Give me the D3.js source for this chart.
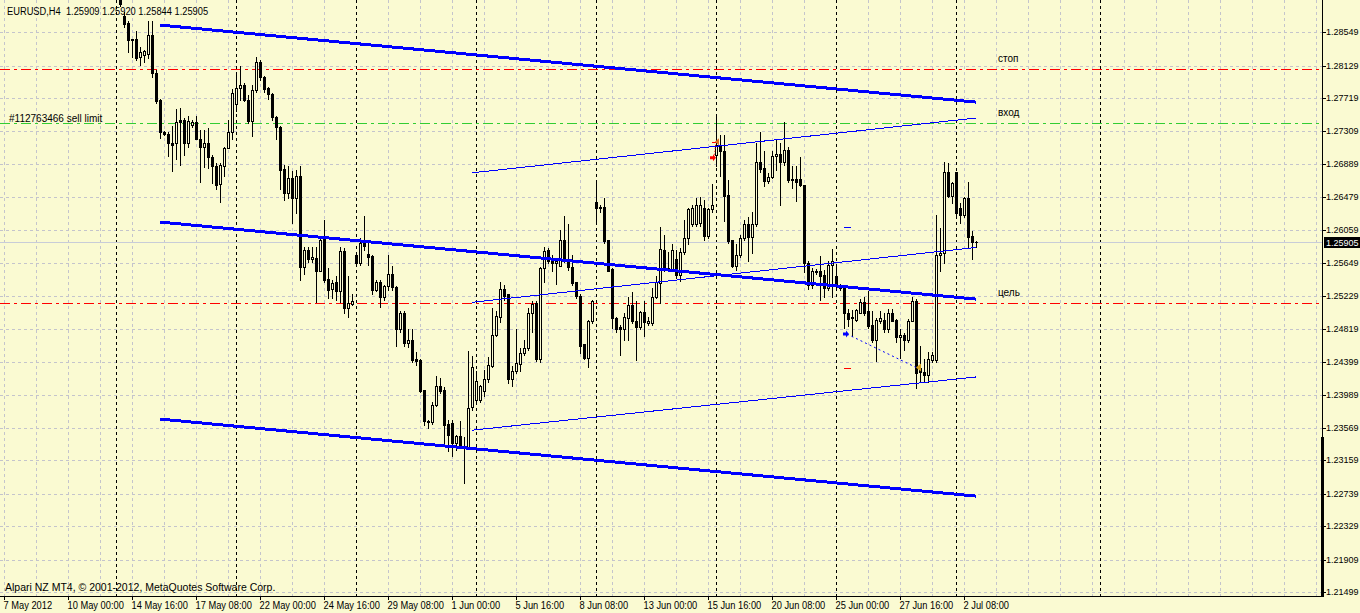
<!DOCTYPE html>
<html><head><meta charset="utf-8">
<script src="https://cdn.jsdelivr.net/npm/d3@7/dist/d3.min.js"></script>
<style>html,body{margin:0;padding:0;background:#FAFAD2;overflow:hidden}svg{display:block}</style>
</head><body>
<svg id="c" width="1360" height="613"></svg>
<script>
// ---------- DATA ----------
const symbolTitle = "EURUSD,H4  1.25909 1.25920 1.25844 1.25905";
const firstBar = 1; // bar index of first candle (bar 0 = 14 May 00:00, 30 bars per week)
const opens = [1.2921,1.2875,1.2866,1.2846,1.2846,1.2824,1.2826,1.2827,1.2851,1.2804,
1.2770,1.2729,1.2727,1.2715,1.2715,1.2744,1.2745,1.2715,1.2738,1.2742,
1.2721,1.2711,1.2715,1.2698,1.2686,1.2664,1.2686,1.2709,1.2730,1.2765,
1.2785,1.2789,1.2770,1.2743,1.2782,1.2818,1.2799,1.2785,1.2777,1.2748,
1.2736,1.2683,1.2653,1.2671,1.2646,1.2674,1.2559,1.2581,1.2570,1.2571,
1.2554,1.2598,1.2544,1.2532,1.2540,1.2529,1.2580,1.2508,1.2513,1.2575,
1.2564,1.2590,1.2576,1.2573,1.2530,1.2541,1.2522,1.2535,1.2550,1.2534,
1.2481,1.2502,1.2464,1.2468,1.2443,1.2442,1.2405,1.2364,1.2364,1.2386,
1.2409,1.2404,1.2362,1.2363,1.2338,1.2347,1.2334,1.2332,1.2383,1.2392,
1.2392,1.2403,1.2418,1.2435,1.2474,1.2497,1.2532,1.2525,1.2418,1.2428,
1.2437,1.2451,1.2457,1.2502,1.2514,1.2443,1.2558,1.2581,1.2570,1.2564,
1.2561,1.2593,1.2569,1.2560,1.2540,1.2523,1.2462,1.2445,1.2491,1.2641,
1.2634,1.2635,1.2593,1.2557,1.2495,1.2484,1.2481,1.2495,1.2511,1.2492,
1.2484,1.2503,1.2489,1.2489,1.2522,1.2539,1.2581,1.2558,1.2556,1.2570,
1.2549,1.2578,1.2596,1.2614,1.2614,1.2615,1.2634,1.2599,1.2632,1.2701,
1.2712,1.2705,1.2650,1.2593,1.2561,1.2574,1.2596,1.2613,1.2597,1.2614,
1.2692,1.2684,1.2668,1.2673,1.2699,1.2702,1.2691,1.2707,1.2670,1.2670,
1.2670,1.2663,1.2565,1.2537,1.2555,1.2554,1.2549,1.2533,1.2562,1.2548,
1.2536,1.2533,1.2502,1.2497,1.2493,1.2502,1.2515,1.2504,1.2487,1.2468,
1.2492,1.2493,1.2481,1.2502,1.2493,1.2471,1.2474,1.2467,1.2492,1.2516,
1.2432,1.2427,1.2424,1.2442,1.2442,1.2574,1.2577,1.2679,1.2649,1.2679,
1.2634,1.2625,1.2646,1.2599,1.25909];
const highs = [1.2934,1.2880,1.2869,1.2847,1.2856,1.2837,1.2833,1.2869,1.2869,1.2808,
1.2771,1.2731,1.2729,1.2737,1.2758,1.2760,1.2747,1.2749,1.2744,1.2749,
1.2732,1.2732,1.2734,1.2701,1.2690,1.2690,1.2711,1.2745,1.2783,1.2802,
1.2812,1.2791,1.2776,1.2789,1.2824,1.2820,1.2800,1.2786,1.2779,1.2749,
1.2737,1.2688,1.2686,1.2680,1.2682,1.2686,1.2585,1.2585,1.2584,1.2585,
1.2596,1.2619,1.2558,1.2543,1.2548,1.2585,1.2583,1.2548,1.2526,1.2576,
1.2596,1.2624,1.2590,1.2575,1.2543,1.2543,1.2537,1.2574,1.2561,1.2535,
1.2504,1.2504,1.2481,1.2481,1.2452,1.2443,1.2405,1.2367,1.2390,1.2422,
1.2420,1.2408,1.2367,1.2367,1.2348,1.2365,1.2345,1.2454,1.2448,1.2429,
1.2411,1.2430,1.2446,1.2508,1.2504,1.2540,1.2537,1.2525,1.2435,1.2481,
1.2458,1.2468,1.2508,1.2517,1.2516,1.2560,1.2585,1.2583,1.2574,1.2570,
1.2606,1.2624,1.2614,1.2575,1.2541,1.2525,1.2463,1.2493,1.2518,1.2668,
1.2638,1.2646,1.2594,1.2558,1.2497,1.2487,1.2502,1.2522,1.2528,1.2516,
1.2504,1.2516,1.2496,1.2533,1.2548,1.2610,1.2600,1.2578,1.2588,1.2581,
1.2583,1.2619,1.2634,1.2638,1.2646,1.2647,1.2644,1.2634,1.2664,1.2750,
1.2726,1.2725,1.2669,1.2594,1.2588,1.2600,1.2618,1.2623,1.2629,1.2716,
1.2730,1.2706,1.2678,1.2705,1.2720,1.2716,1.2742,1.2710,1.2686,1.2686,
1.2698,1.2663,1.2567,1.2558,1.2557,1.2573,1.2556,1.2567,1.2582,1.2560,
1.2538,1.2537,1.2506,1.2505,1.2506,1.2519,1.2522,1.2529,1.2504,1.2495,
1.2504,1.2502,1.2506,1.2506,1.2494,1.2481,1.2476,1.2494,1.2522,1.2519,
1.2460,1.2443,1.2453,1.2452,1.2625,1.2609,1.2691,1.2690,1.2667,1.2679,
1.2640,1.2648,1.2667,1.2605,1.25920];
const lows = [1.2888,1.2862,1.2830,1.2824,1.2820,1.2814,1.2817,1.2823,1.2799,1.2766,
1.2722,1.2726,1.2699,1.2680,1.2695,1.2688,1.2701,1.2711,1.2736,1.2720,
1.2666,1.2685,1.2684,1.2665,1.2657,1.2641,1.2674,1.2709,1.2720,1.2756,
1.2770,1.2768,1.2741,1.2724,1.2780,1.2795,1.2780,1.2771,1.2745,1.2721,
1.2658,1.2644,1.2646,1.2615,1.2627,1.2543,1.2550,1.2566,1.2566,1.2515,
1.2554,1.2541,1.2520,1.2520,1.2518,1.2515,1.2502,1.2496,1.2511,1.2564,
1.2562,1.2581,1.2562,1.2525,1.2529,1.2509,1.2518,1.2531,1.2531,1.2460,
1.2478,1.2460,1.2459,1.2440,1.2436,1.2402,1.2360,1.2357,1.2362,1.2384,
1.2401,1.2334,1.2328,1.2322,1.2329,1.2331,1.2288,1.2332,1.2380,1.2391,
1.2390,1.2397,1.2415,1.2434,1.2473,1.2490,1.2518,1.2413,1.2409,1.2426,
1.2429,1.2449,1.2455,1.2478,1.2441,1.2440,1.2541,1.2565,1.2555,1.2538,
1.2561,1.2566,1.2556,1.2537,1.2521,1.2451,1.2443,1.2434,1.2489,1.2617,
1.2629,1.2590,1.2554,1.2483,1.2477,1.2449,1.2468,1.2468,1.2489,1.2442,
1.2482,1.2473,1.2487,1.2487,1.2520,1.2514,1.2554,1.2554,1.2554,1.2546,
1.2542,1.2576,1.2588,1.2611,1.2611,1.2611,1.2593,1.2596,1.2629,1.2686,
1.2674,1.2617,1.2590,1.2559,1.2556,1.2572,1.2594,1.2567,1.2577,1.2611,
1.2679,1.2661,1.2665,1.2671,1.2682,1.2637,1.2688,1.2667,1.2659,1.2642,
1.2661,1.2553,1.2532,1.2533,1.2550,1.2518,1.2522,1.2531,1.2522,1.2533,
1.2531,1.2483,1.2485,1.2472,1.2491,1.2501,1.2499,1.2483,1.2465,1.2441,
1.2489,1.2478,1.2478,1.2491,1.2465,1.2445,1.2455,1.2465,1.2491,1.2407,
1.2415,1.2415,1.2415,1.2440,1.2440,1.2554,1.2565,1.2647,1.2640,1.2624,
1.2615,1.2623,1.2585,1.2569,1.25844];
const closes = [1.2891,1.2865,1.2845,1.2845,1.2823,1.2830,1.2831,1.2851,1.2804,1.2769,
1.2729,1.2727,1.2715,1.2713,1.2742,1.2742,1.2715,1.2743,1.2742,1.2721,
1.2711,1.2715,1.2698,1.2686,1.2663,1.2688,1.2709,1.2730,1.2779,1.2785,
1.2789,1.2770,1.2743,1.2782,1.2818,1.2799,1.2784,1.2777,1.2748,1.2736,
1.2682,1.2653,1.2671,1.2646,1.2674,1.2559,1.2581,1.2569,1.2572,1.2554,
1.2593,1.2543,1.2531,1.2539,1.2529,1.2580,1.2508,1.2514,1.2516,1.2564,
1.2590,1.2586,1.2572,1.2531,1.2541,1.2522,1.2535,1.2550,1.2534,1.2481,
1.2502,1.2464,1.2468,1.2442,1.2441,1.2403,1.2365,1.2366,1.2386,1.2409,
1.2403,1.2361,1.2348,1.2338,1.2347,1.2334,1.2332,1.2382,1.2434,1.2416,
1.2409,1.2418,1.2436,1.2474,1.2498,1.2532,1.2523,1.2418,1.2429,1.2438,
1.2451,1.2457,1.2502,1.2513,1.2443,1.2558,1.2580,1.2567,1.2564,1.2567,
1.2593,1.2569,1.2559,1.2539,1.2523,1.2460,1.2445,1.2492,1.2516,1.2634,
1.2635,1.2592,1.2555,1.2495,1.2481,1.2481,1.2496,1.2511,1.2491,1.2484,
1.2503,1.2490,1.2492,1.2522,1.2540,1.2582,1.2556,1.2556,1.2581,1.2549,
1.2578,1.2596,1.2632,1.2634,1.2638,1.2638,1.2599,1.2632,1.2637,1.2713,
1.2705,1.2649,1.2592,1.2561,1.2575,1.2596,1.2613,1.2597,1.2614,1.2692,
1.2683,1.2668,1.2673,1.2699,1.2702,1.2691,1.2707,1.2669,1.2669,1.2667,
1.2663,1.2565,1.2537,1.2555,1.2553,1.2548,1.2533,1.2562,1.2567,1.2535,
1.2533,1.2502,1.2494,1.2495,1.2505,1.2515,1.2502,1.2485,1.2468,1.2493,
1.2495,1.2481,1.2502,1.2492,1.2471,1.2474,1.2467,1.2492,1.2516,1.2426,
1.2427,1.2424,1.2443,1.2449,1.2574,1.2577,1.2679,1.2649,1.2665,1.2627,
1.2625,1.2646,1.2597,1.2591,1.25905];

const priceTicks = [1.28549,1.28129,1.27719,1.27309,1.26889,1.26479,1.26059,1.25649,1.25229,
  1.24819,1.24399,1.23989,1.23569,1.23159,1.22739,1.22329,1.21909,1.21499];
const timeTickBars = [-28,-12,4,20,36,52,68,84,100,116,132,148,164,180,196,212];
const timeTickLabels = ["7 May 2012","10 May 00:00","14 May 16:00","17 May 08:00","22 May 00:00",
  "24 May 16:00","29 May 08:00","1 Jun 00:00","5 Jun 16:00","8 Jun 08:00","13 Jun 00:00",
  "15 Jun 16:00","20 Jun 08:00","25 Jun 00:00","27 Jun 16:00","2 Jul 08:00"];
const separatorBars = [0,30,60,90,120,150,180,210,246];
const bidPrice = 1.25905;

// horizontal levels
const levelNames = ["стоп","вход","цель"];
const levelPrices = [1.28084,1.27404,1.25138];
const levelColors = ["#FF0000","#32CD32","#FF0000"];
const orderLabel = "#112763466 sell limit";

// trend lines
const trendStartBar = [11,11,11,89,89,89];
const trendStartPrice = [1.2864,1.2616,1.2368,1.2678,1.2515,1.2354];
const trendEndBar = [215,215,215,215,215,215];
const trendEndPrice = [1.2767,1.2519,1.2271,1.2747,1.2584,1.2421];
const trendWidth = [3,3,3,1,1,1];

// trade marks
const tradeOpenBar = 182, tradeOpenPrice = 1.2475;
const tradeCloseBar = 200, tradeClosePrice = 1.2433;
const tradeSLPrice = 1.2610, tradeTPPrice = 1.2433;
const pendingArrowBar = 149, pendingArrowPrice = 1.2697;
const pendingLevelBar = 150, pendingLevelPrice = 1.2717;

const copyright = "Alpari NZ MT4, © 2001-2012, MetaQuotes Software Corp.";

// ---------- DRAW ----------
const bg = "#FAFAD2";
const plotR = 1322, plotB = 596;
const svg = d3.select("#c");
const font = "'Liberation Sans', Arial, sans-serif";
svg.append("rect").attr("width",1360).attr("height",613).attr("fill",bg);
svg.append("defs").append("clipPath").attr("id","plot")
  .append("rect").attr("x",0).attr("y",0).attr("width",plotR).attr("height",plotB);

const xs = d3.scaleLinear().domain([0,215]).range([116,976]);
const ys = d3.scaleLinear().domain([1.21499,1.28549]).range([592.3,32.3]);
const py = v => Math.round(ys(v));

function squeeze(sel, f){ sel.each(function(){ const L=this.getComputedTextLength(); d3.select(this).attr("textLength",L*f).attr("lengthAdjust","spacingAndGlyphs"); }); }

const plot = svg.append("g").attr("clip-path","url(#plot)");

// grid
const gridBars = d3.range(-28, 301, 8);
plot.append("g").selectAll("line").data(gridBars).join("line")
  .attr("x1",d=>xs(d)+0.5).attr("x2",d=>xs(d)+0.5).attr("y1",0).attr("y2",plotB)
  .attr("stroke","#C4C4CC").attr("stroke-dasharray","3,3");
plot.append("g").selectAll("line").data(priceTicks).join("line")
  .attr("x1",0).attr("x2",plotR).attr("y1",d=>py(d)+0.5).attr("y2",d=>py(d)+0.5)
  .attr("stroke","#C4C4CC").attr("stroke-dasharray","3,3");

// period separators
plot.append("g").selectAll("line").data(separatorBars).join("line")
  .attr("x1",d=>xs(d)+0.5).attr("x2",d=>xs(d)+0.5).attr("y1",0).attr("y2",plotB)
  .attr("stroke","#000").attr("stroke-dasharray","3,3");

// levels
plot.append("g").selectAll("line").data(levelPrices).join("line")
  .attr("x1",0).attr("x2",plotR).attr("y1",d=>py(d)+0.5).attr("y2",d=>py(d)+0.5)
  .attr("stroke",(d,k)=>levelColors[k]).attr("stroke-dasharray","10,4,3,4");

// bid line
plot.append("line").attr("x1",0).attr("x2",plotR).attr("y1",py(bidPrice)+0.5).attr("y2",py(bidPrice)+0.5)
  .attr("stroke","#C8CCD8");

// candles
const bars = opens.map((o,k)=>({i:firstBar+k,o:o,h:highs[k],l:lows[k],c:closes[k]}));
const cg = plot.append("g");
cg.selectAll("line.w").data(bars).join("line").attr("class","w")
  .attr("x1",d=>xs(d.i)+0.5).attr("x2",d=>xs(d.i)+0.5)
  .attr("y1",d=>py(d.h)).attr("y2",d=>py(d.l)+1).attr("stroke","#000");
bars.forEach(d=>{
  const top = py(Math.max(d.o,d.c)), bot = py(Math.min(d.o,d.c));
  const x = xs(d.i);
  if (bot - top < 1) {
    cg.append("line").attr("x1",x-1).attr("x2",x+2).attr("y1",top+0.5).attr("y2",top+0.5).attr("stroke","#000");
  } else {
    cg.append("rect").attr("x",x-0.5).attr("y",top+0.5).attr("width",2).attr("height",bot-top)
      .attr("fill", d.c < d.o ? "#000" : bg).attr("stroke","#000");
  }
});

// trend lines
plot.append("g").selectAll("line").data(trendStartBar).join("line")
  .attr("x1",(d,k)=>xs(d)).attr("y1",(d,k)=>ys(trendStartPrice[k]))
  .attr("x2",(d,k)=>xs(trendEndBar[k])).attr("y2",(d,k)=>ys(trendEndPrice[k]))
  .attr("stroke","#0000FF").attr("stroke-width",(d,k)=>trendWidth[k])
  .attr("shape-rendering","crispEdges");

// trade marks
const tm = plot.append("g");
const ox = xs(tradeOpenBar), oy = ys(tradeOpenPrice);
const cx = xs(tradeCloseBar), cy = ys(tradeClosePrice);
tm.append("line").attr("x1",ox+3).attr("y1",oy).attr("x2",cx).attr("y2",cy)
  .attr("stroke","#0000FF").attr("stroke-dasharray","2,3");
tm.append("path").attr("d",`M${ox-1},${oy-1.5}h3v-2l3,3.5l-3,3.5v-2h-3z`).attr("fill","#0000FF");
tm.append("path").attr("d",`M${cx},${cy}l5,-4v8z`).attr("fill","#DAA520");
tm.append("line").attr("x1",ox).attr("x2",ox+7).attr("y1",py(tradeSLPrice)+0.5).attr("y2",py(tradeSLPrice)+0.5).attr("stroke","#0000FF");
tm.append("line").attr("x1",ox).attr("x2",ox+7).attr("y1",py(tradeTPPrice)+1.5).attr("y2",py(tradeTPPrice)+1.5).attr("stroke","#FF0000");
const ax = xs(pendingArrowBar), ay = ys(pendingArrowPrice);
const lx = xs(pendingLevelBar), ly = ys(pendingLevelPrice);
tm.append("line").attr("x1",lx).attr("y1",ly).attr("x2",ax+2).attr("y2",ay)
  .attr("stroke","#FF0000").attr("stroke-dasharray","1,2");
tm.append("line").attr("x1",lx-4).attr("x2",lx+2).attr("y1",Math.round(ly)+0.5).attr("y2",Math.round(ly)+0.5).attr("stroke","#FF0000");
tm.append("path").attr("d",`M${lx-1},${ly}l4,-3.5v7z`).attr("fill","#E07020");
tm.append("path").attr("d",`M${ax-2},${ay-1.5}h3v-2l3,3.5l-3,3.5v-2h-3z`).attr("fill","#FF0000");

// axes frame
svg.append("line").attr("x1",plotR+0.5).attr("x2",plotR+0.5).attr("y1",0).attr("y2",plotB+1).attr("stroke","#000");
svg.append("line").attr("x1",0).attr("x2",plotR+1).attr("y1",plotB+0.5).attr("y2",plotB+0.5).attr("stroke","#000");
svg.append("rect").attr("x",plotR-1).attr("y",437).attr("width",3).attr("height",plotB-437+1).attr("fill","#000");

// right axis
const yAxis = d3.axisRight(ys).tickValues(priceTicks).tickFormat(d3.format(".5f")).tickSize(4).tickPadding(0);
const ya = svg.append("g").attr("transform",`translate(${plotR},0)`).call(yAxis);
ya.select(".domain").remove();
ya.selectAll(".tick").attr("transform",d=>`translate(0,${py(d)+0.5})`);
ya.selectAll("text").attr("font-family",font).attr("font-size",9).attr("fill","#000");

// bid label
svg.append("rect").attr("x",1324).attr("y",py(bidPrice)-5).attr("width",36).attr("height",11).attr("fill","#000");
svg.append("text").attr("x",1326).attr("y",py(bidPrice)+3.5).attr("font-family",font).attr("font-size",9)
  .attr("fill","#fff").text(d3.format(".5f")(bidPrice));

// bottom axis
const xAxis = d3.axisBottom(xs).tickValues(timeTickBars).tickFormat((d,k)=>timeTickLabels[k]).tickSize(4).tickPadding(2);
const xa = svg.append("g").attr("transform",`translate(0,${plotB})`).call(xAxis);
xa.select(".domain").remove();
xa.selectAll(".tick").attr("transform",d=>`translate(${xs(d)+0.5},0)`);
xa.selectAll("text").attr("font-family",font).attr("font-size",10).attr("fill","#000")
  .attr("text-anchor","start").attr("x",-1);
squeeze(xa.selectAll("text"), 0.93);

// texts
const title = svg.append("text").attr("x",7).attr("y",14.5).attr("font-family",font).attr("font-size",10).attr("fill","#000")
  .attr("xml:space","preserve").style("white-space","pre").text(symbolTitle);
squeeze(title, 0.93);
svg.append("text").attr("x",9).attr("y",121.5).attr("font-family",font).attr("font-size",10).attr("fill","#000").text(orderLabel);
svg.append("text").attr("x",5).attr("y",591).attr("font-family",font).attr("font-size",10.5).attr("fill","#000").text(copyright);
svg.append("g").selectAll("text").data(levelNames).join("text")
  .attr("x",998).attr("y",(d,k)=>py(levelPrices[k])-7.5)
  .attr("font-family",font).attr("font-size",10).attr("fill","#000").text(d=>d);
</script>
</body></html>
